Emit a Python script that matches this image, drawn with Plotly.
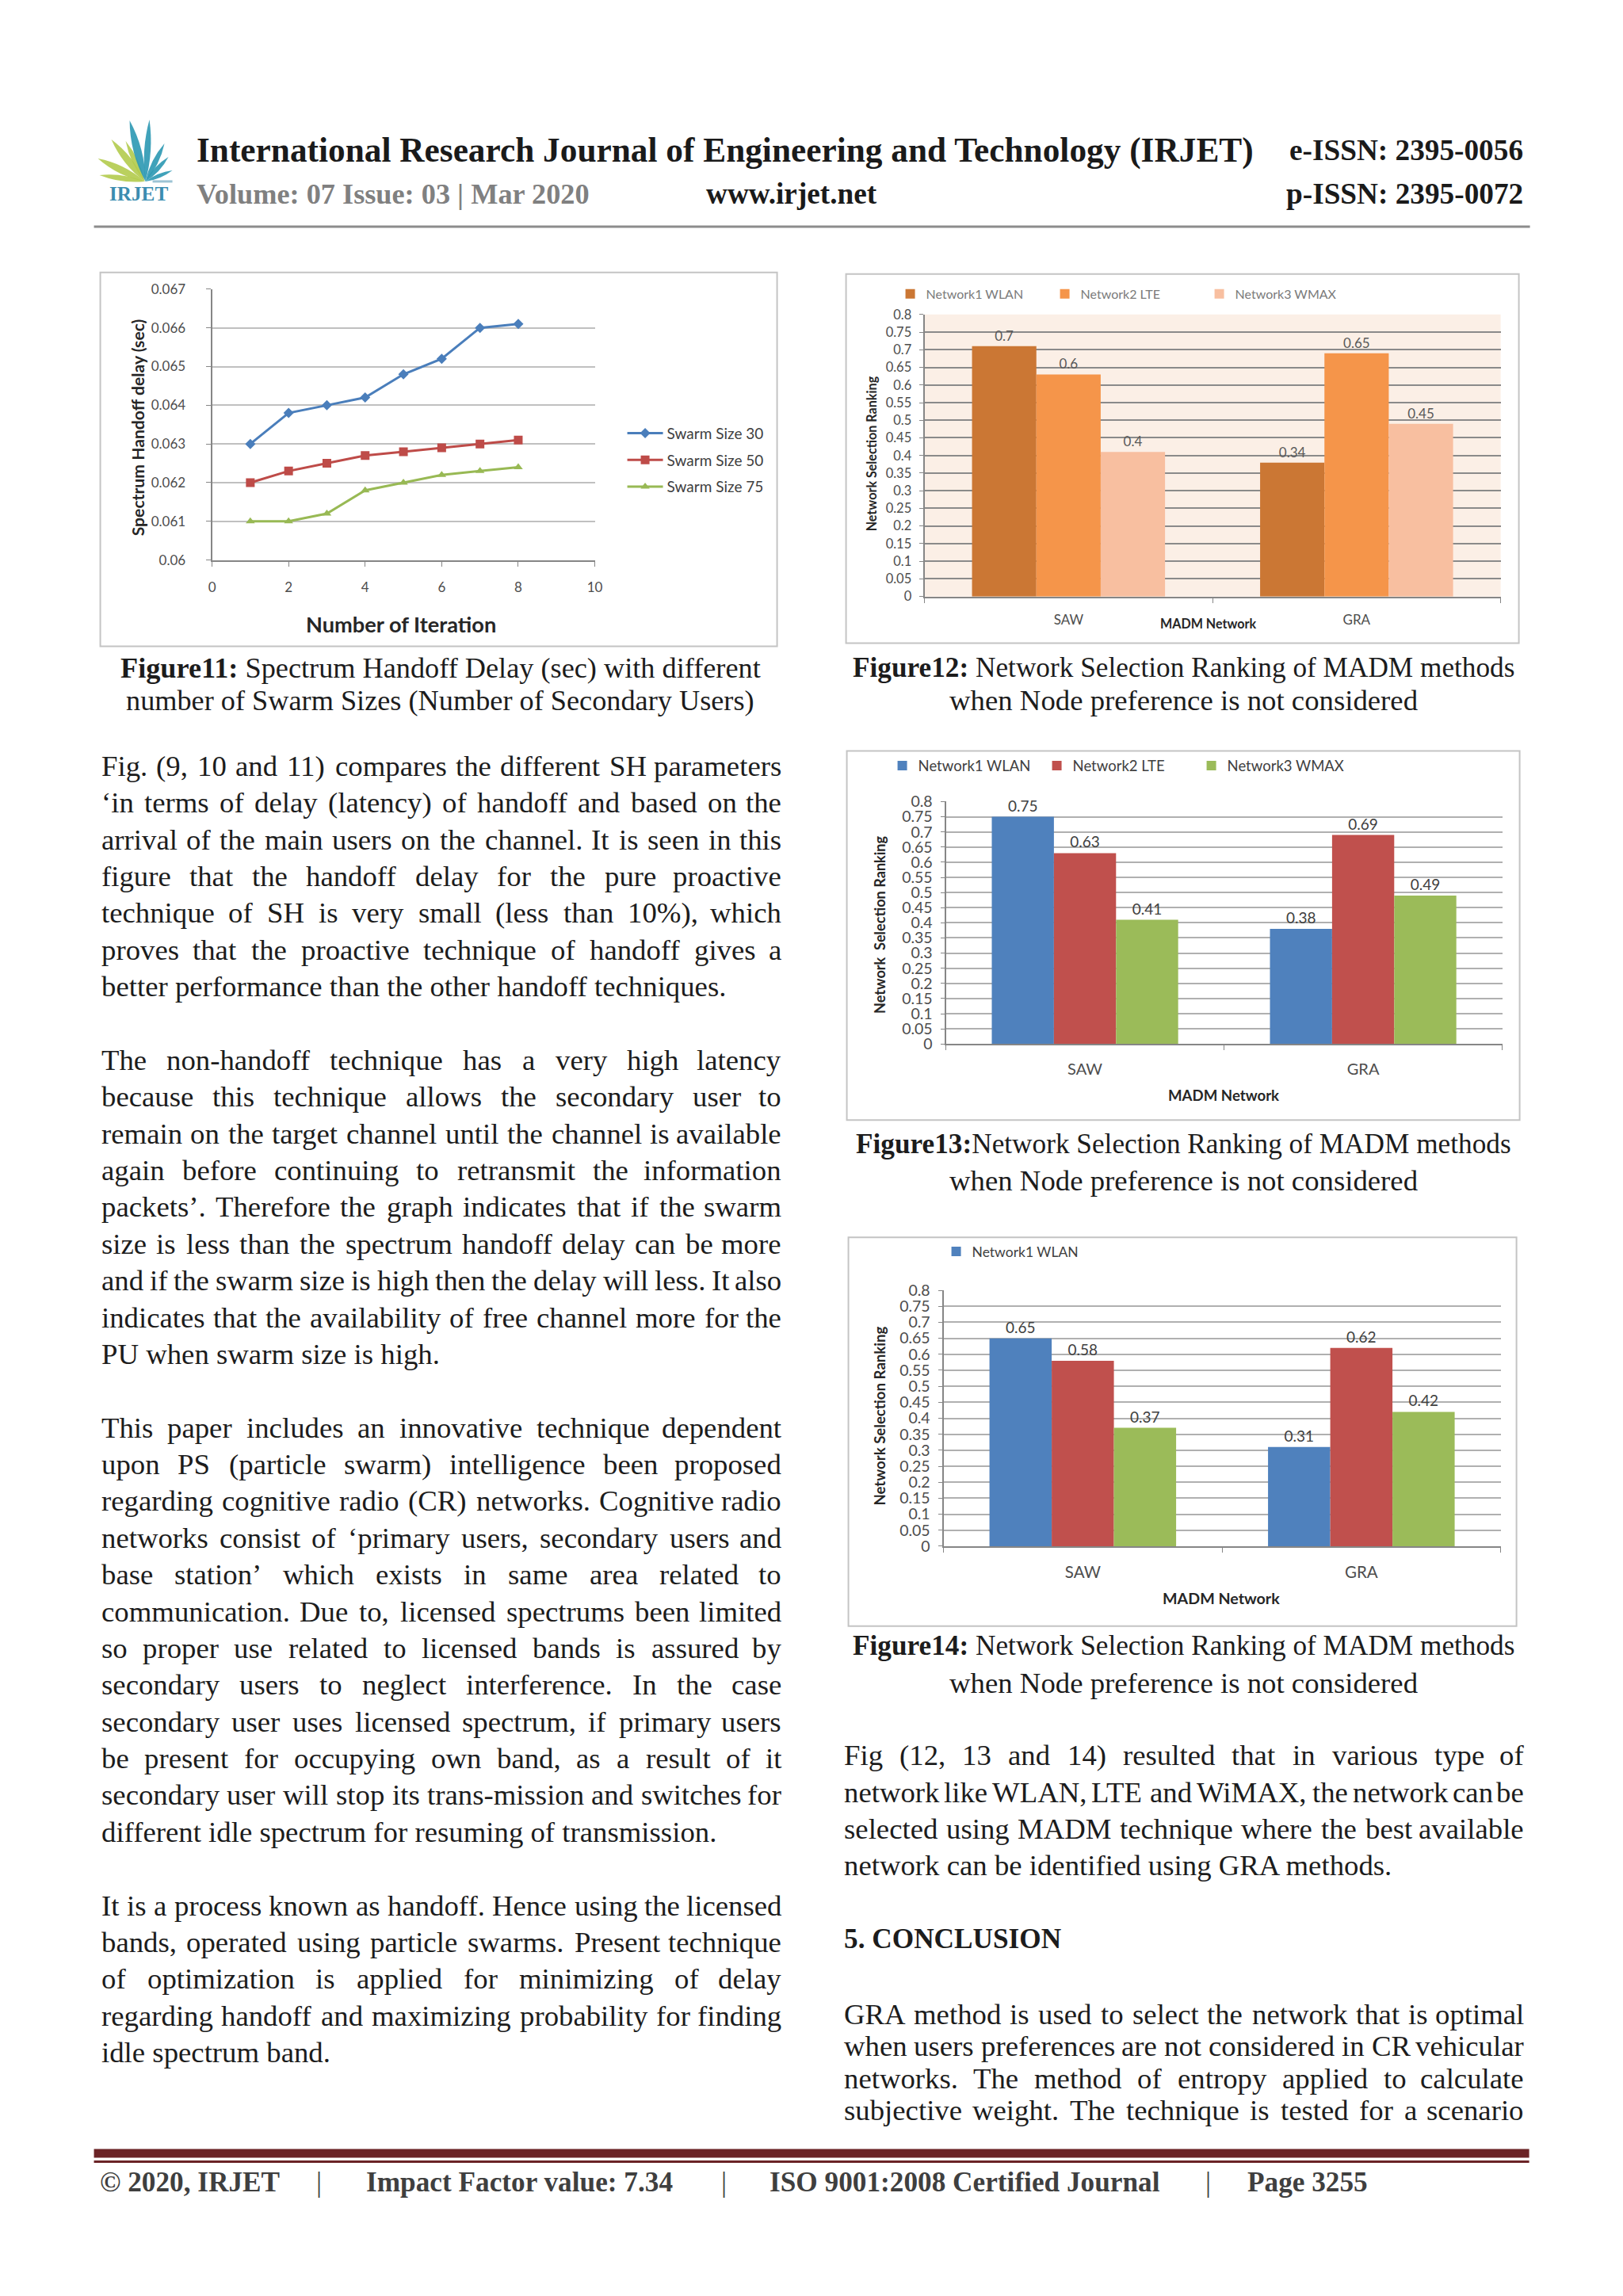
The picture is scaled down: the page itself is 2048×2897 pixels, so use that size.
import plotly.graph_objects as go

W, H = 2048, 2897
OFF = 8                      # default body margin of the page
FW, FH = W - 2 * OFF, H - 2 * OFF
# empirical correction of the photographed page (slight shrink + shift)
SC = 0.9926
AX0, AY0 = 4.5, 12.0
K = 1 / SC


def px(x):
    return ((x - AX0) / SC - OFF) / FW


def py(y):
    return 1 - ((y - AY0) / SC - OFF) / FH


# ---------------- data ----------------
iterations = [1, 2, 3, 4, 5, 6, 7, 8]
swarm_30 = [0.0630, 0.0638, 0.0640, 0.0642, 0.0648, 0.0652, 0.0660, 0.0661]
swarm_50 = [0.0620, 0.0623, 0.0625, 0.0627, 0.0628, 0.0629, 0.0630, 0.0631]
swarm_75 = [0.0610, 0.0610, 0.0612, 0.0618, 0.0620, 0.0622, 0.0623, 0.0624]
fig11_xticks = [0, 2, 4, 6, 8, 10]
fig11_yticks = [0.060, 0.061, 0.062, 0.063, 0.064, 0.065, 0.066, 0.067]
fig11_yticktext = ["0.06", "0.061", "0.062", "0.063", "0.064", "0.065", "0.066", "0.067"]

methods = ["SAW", "GRA"]
networks = ["Network1 WLAN", "Network2 LTE", "Network3 WMAX"]

fig12_wlan = [0.71, 0.38]
fig12_lte = [0.63, 0.69]
fig12_wmax = [0.41, 0.49]
fig12_wlan_text = ["0.7", "0.34"]
fig12_lte_text = ["0.6", "0.65"]
fig12_wmax_text = ["0.4", "0.45"]

fig13_wlan = [0.75, 0.38]
fig13_lte = [0.63, 0.69]
fig13_wmax = [0.41, 0.49]

fig14_wlan = [0.65, 0.31]
fig14_lte = [0.58, 0.62]
fig14_wmax = [0.37, 0.42]

rank_ticks = [0, 0.05, 0.1, 0.15, 0.2, 0.25, 0.3, 0.35, 0.4, 0.45, 0.5, 0.55, 0.6, 0.65, 0.7, 0.75, 0.8]
rank_ticktext = ["0", "0.05", "0.1", "0.15", "0.2", "0.25", "0.3", "0.35", "0.4", "0.45",
                 "0.5", "0.55", "0.6", "0.65", "0.7", "0.75", "0.8"]

# ---------------- text ----------------
left_paragraphs = [
    ["Fig. (9, 10 and 11) compares the different SH parameters",
     "\u2018in terms of delay (latency) of handoff and based on the",
     "arrival of the main users on the channel. It is seen in this",
     "figure that the handoff delay for the pure proactive",
     "technique of SH is very small (less than 10%), which",
     "proves that the proactive technique of handoff gives a",
     "better performance than the other handoff techniques."],
    ["The non-handoff technique has a very high latency",
     "because this technique allows the secondary user to",
     "remain on the target channel until the channel is available",
     "again before continuing to retransmit the information",
     "packets\u2019. Therefore the graph indicates that if the swarm",
     "size is less than the spectrum handoff delay can be more",
     "and if the swarm size is high then the delay will less. It also",
     "indicates that the availability of free channel more for the",
     "PU when swarm size is high."],
    ["This paper includes an innovative technique dependent",
     "upon PS (particle swarm) intelligence been proposed",
     "regarding cognitive radio (CR) networks. Cognitive radio",
     "networks consist of \u2018primary users, secondary users and",
     "base station\u2019 which exists in same area related to",
     "communication. Due to, licensed spectrums been limited",
     "so proper use related to licensed bands is assured by",
     "secondary users to neglect interference. In the case",
     "secondary user uses licensed spectrum, if primary users",
     "be present for occupying own band, as a result of it",
     "secondary user will stop its trans-mission and switches for",
     "different idle spectrum for resuming of transmission."],
    ["It is a process known as handoff. Hence using the licensed",
     "bands, operated using particle swarms. Present technique",
     "of optimization is applied for minimizing of delay",
     "regarding handoff and maximizing probability for finding",
     "idle spectrum band."],
]
right_paragraph = [
    "Fig (12, 13 and 14) resulted that in various type of",
    "network like WLAN, LTE and WiMAX, the network can be",
    "selected using MADM technique where the best available",
    "network can be identified using GRA methods.",
]
conclusion_lines = [
    "GRA method is used to select the network that is optimal",
    "when users preferences are not considered in CR vehicular",
    "networks. The method of entropy applied to calculate",
    "subjective weight. The technique is tested for a scenario",
]

# Times / Liberation Serif advance widths (1/1000 em)
REG = {' ': 250, '!': 333, '%': 833, '&': 778, "'": 180, '(': 333, ')': 333, ',': 250,
       '-': 333, '.': 250, '/': 278, ':': 278, ';': 278, '?': 444,
       'A': 722, 'B': 667, 'C': 667, 'D': 722, 'E': 611, 'F': 556, 'G': 722, 'H': 722,
       'I': 333, 'J': 389, 'K': 722, 'L': 611, 'M': 889, 'N': 722, 'O': 722, 'P': 556,
       'Q': 722, 'R': 667, 'S': 556, 'T': 611, 'U': 722, 'V': 722, 'W': 944, 'X': 722,
       'Y': 722, 'Z': 611,
       'a': 444, 'b': 500, 'c': 444, 'd': 500, 'e': 444, 'f': 333, 'g': 500, 'h': 500,
       'i': 278, 'j': 278, 'k': 500, 'l': 278, 'm': 778, 'n': 500, 'o': 500, 'p': 500,
       'q': 500, 'r': 333, 's': 389, 't': 278, 'u': 500, 'v': 500, 'w': 722, 'x': 500,
       'y': 500, 'z': 444, '\u2018': 333, '\u2019': 333}


def text_width(s, size):
    return sum(REG.get(c, 500) for c in s) * size / 1000.0


SERIF = "Liberation Serif"
SANS = "Lato"
BODY = 36.5
TXT = "#1c1c1c"

annotations = []
shapes = []


def ann(text, x, y, size, color=TXT, family=SERIF, xanchor="left", yanchor="middle", angle=0):
    annotations.append(dict(text=text, x=px(x), y=py(y), xref="paper", yref="paper",
                            xanchor=xanchor, yanchor=yanchor, showarrow=False,
                            textangle=angle, borderpad=0,
                            font=dict(family=family, size=round(size * K, 2), color=color)))


def text_line(line, x0, x1, y, justify, size=BODY):
    if not justify:
        ann(line, x0, y, size)
        return
    words = line.split(" ")
    widths = [text_width(w, size) for w in words]
    gap = (x1 - x0 - sum(widths)) / (len(words) - 1)
    x = x0
    for i, w in enumerate(words):
        if i == len(words) - 1:
            ann(w, x1, y, size, xanchor="right")
        else:
            ann(w, x, y, size)
        x += widths[i] + gap


# left column
LX0, LX1 = 126, 986
idx = 0
for para in left_paragraphs:
    for j, line in enumerate(para):
        text_line(line, LX0, LX1, 967 + 46.4 * idx, j < len(para) - 1)
        idx += 1
    idx += 1

# right column
RX0, RX1 = 1063, 1923
for j, line in enumerate(right_paragraph):
    text_line(line, RX0, RX1, 2216 + 46.4 * j, j < len(right_paragraph) - 1)
ann("<b>5. CONCLUSION</b>", RX0, 2448, 35)
for j, line in enumerate(conclusion_lines):
    text_line(line, RX0, RX1, 2543 + 40.3 * j, True)

# captions
ann("<b>Figure11:</b> Spectrum Handoff Delay (sec) with different", 555, 843, 36, xanchor="center")
ann("number of Swarm Sizes (Number of Secondary Users)", 555, 884, 36, xanchor="center")
ann("<b>Figure12:</b> Network Selection Ranking of MADM methods", 1493, 843, 35, xanchor="center")
ann("when Node preference is not considered", 1493, 884, BODY, xanchor="center")
ann("<b>Figure13:</b>Network Selection Ranking of MADM methods", 1493, 1444, 35, xanchor="center")
ann("when Node preference is not considered", 1493, 1490, BODY, xanchor="center")
ann("<b>Figure14:</b> Network Selection Ranking of MADM methods", 1493, 2078, 35, xanchor="center")
ann("when Node preference is not considered", 1493, 2125, BODY, xanchor="center")

# header
ann("<b>International Research Journal of Engineering and Technology (IRJET)</b>", 246, 190, 43, color="#1a1a1a")
ann("<b>e-ISSN: 2395-0056</b>", 1922, 190, 37, color="#1a1a1a", xanchor="right")
ann("<b>Volume: 07 Issue: 03 | Mar 2020</b>", 246, 245, 36, color="#808080")
ann("<b>www.irjet.net</b>", 889, 245, 37, color="#1a1a1a")
ann("<b>p-ISSN: 2395-0072</b>", 1922, 245, 37, color="#1a1a1a", xanchor="right")
shapes.append(dict(type="line", xref="paper", yref="paper", x0=px(118), x1=px(1930), y0=py(286), y1=py(286),
                   line=dict(color="#8c8c8c", width=3)))


# logo
def leaf(bx, by, tx, ty, w, color):
    mx, my = (bx + tx) / 2, (by + ty) / 2
    dx, dy = tx - bx, ty - by
    L = (dx * dx + dy * dy) ** 0.5
    nx, ny = -dy / L, dx / L
    c1 = (mx + nx * w, my + ny * w)
    c2 = (mx - nx * w, my - ny * w)
    path = "M {:.5f},{:.5f} Q {:.5f},{:.5f} {:.5f},{:.5f} Q {:.5f},{:.5f} {:.5f},{:.5f} Z".format(
        px(bx), py(by), px(c1[0]), py(c1[1]), px(tx), py(ty), px(c2[0]), py(c2[1]), px(bx), py(by))
    shapes.append(dict(type="path", xref="paper", yref="paper", path=path,
                       fillcolor=color, line=dict(width=0), opacity=0.9))


for tip, w in [((123, 200), 9), ((125, 221), 7), ((140, 176), 9), ((158, 178), 7)]:
    leaf(182, 229, tip[0], tip[1], w, "#b3cb4c")
for tip, w in [((163, 152), 10), ((188, 151), 8), ((207, 181), 7), ((212, 198), 6), ((217, 215), 5)]:
    leaf(183, 229, tip[0], tip[1], w, "#2b98b3")
shapes.append(dict(type="line", xref="paper", yref="paper", x0=px(192), x1=px(217), y0=py(229), y1=py(229),
                   line=dict(color="#9cc3d4", width=3)))
ann("<b>IRJET</b>", 174, 245, 25, color="#3b8db0", xanchor="center")

# footer
shapes.append(dict(type="rect", xref="paper", yref="paper", x0=px(118), x1=px(1929), y0=py(2724), y1=py(2713),
                   fillcolor="#6b2326", line=dict(width=0)))
shapes.append(dict(type="line", xref="paper", yref="paper", x0=px(118), x1=px(1929), y0=py(2729), y1=py(2729),
                   line=dict(color="#6b2326", width=3)))
FOOT = "#3f3f3f"
ann("<b>\u00a9 2020, IRJET</b>", 124, 2755, 35, color=FOOT)
ann("|", 402, 2755, 35, color=FOOT, xanchor="center")
ann("<b>Impact Factor value: 7.34</b>", 460, 2755, 35, color=FOOT)
ann("|", 913, 2755, 35, color=FOOT, xanchor="center")
ann("<b>ISO 9001:2008 Certified Journal</b>", 969, 2755, 35, color=FOOT)
ann("|", 1524, 2755, 35, color=FOOT, xanchor="center")
ann("<b>Page 3255</b>", 1572, 2755, 35, color=FOOT)

# chart frames
for (x0, y0, x1, y1) in [(126, 344, 980, 816), (1067, 346, 1916, 812), (1068, 948, 1917, 1414), (1070, 1562, 1913, 2053)]:
    shapes.append(dict(type="rect", xref="paper", yref="paper", x0=px(x0), x1=px(x1), y0=py(y1), y1=py(y0),
                       line=dict(color="#c4c4c4", width=2), fillcolor="rgba(0,0,0,0)"))

# peach plot area for Figure12
shapes.append(dict(type="rect", xref="x2 domain", yref="y2 domain", x0=0, x1=1, y0=0, y1=1,
                   fillcolor="#fbefe6", line=dict(width=0), layer="below"))

# chart axis titles
TITLE_C = "#262626"
ann("<b>Number of Iteration</b>", 505, 788, 27, color=TITLE_C, family=SANS, xanchor="center")
ann("<b>Spectrum Handoff delay (sec)</b>", 173, 540, 21, color=TITLE_C, family=SANS, xanchor="center", angle=-90)
ann("<b>Network Selection Ranking</b>", 1099, 573, 16, color=TITLE_C, family=SANS, xanchor="center", angle=-90)
ann("<b>MADM Network</b>", 1524, 787, 16, color=TITLE_C, family=SANS, xanchor="center")
ann("<b>Network  Selection Ranking</b>", 1110, 1167, 18, color=TITLE_C, family=SANS, xanchor="center", angle=-90)
ann("<b>MADM Network</b>", 1543, 1383, 18.5, color=TITLE_C, family=SANS, xanchor="center")
ann("<b>Network Selection Ranking</b>", 1109, 1788, 18.5, color=TITLE_C, family=SANS, xanchor="center", angle=-90)
ann("<b>MADM Network</b>", 1540, 2018, 19.5, color=TITLE_C, family=SANS, xanchor="center")

# ---------------- traces ----------------
fig = go.Figure()

line_series = [
    ("Swarm Size 30", swarm_30, "#4a7ebb", "diamond", 10),
    ("Swarm Size 50", swarm_50, "#be4b48", "square", 11),
    ("Swarm Size 75", swarm_75, "#98b954", "triangle-up", 10),
]
for name, vals, col, sym, sz in line_series:
    fig.add_trace(go.Scatter(x=iterations, y=vals, name=name, mode="lines+markers",
                             line=dict(color=col, width=3),
                             marker=dict(symbol=sym, size=sz, color=col),
                             xaxis="x", yaxis="y", legend="legend", legendgroup=name))

orange_cols = ["#cb7734", "#f5954a", "#f8bfa0"]
excel_cols = ["#4f81bd", "#c0504d", "#9bbb59"]

fig12_series = [(fig12_wlan, fig12_wlan_text), (fig12_lte, fig12_lte_text), (fig12_wmax, fig12_wmax_text)]
for i, (vals, txt) in enumerate(fig12_series):
    fig.add_trace(go.Bar(x=methods, y=vals, name=networks[i], text=txt, textposition="outside",
                         textfont=dict(family=SANS, size=17, color="#595959"), cliponaxis=False,
                         marker=dict(color=orange_cols[i], line=dict(width=0)),
                         xaxis="x2", yaxis="y2", legend="legend2"))

for i, vals in enumerate([fig13_wlan, fig13_lte, fig13_wmax]):
    fig.add_trace(go.Bar(x=methods, y=vals, name=networks[i], text=[f"{v:g}" for v in vals],
                         textposition="outside", cliponaxis=False,
                         textfont=dict(family=SANS, size=19, color="#404040"),
                         marker=dict(color=excel_cols[i], line=dict(width=0)),
                         xaxis="x3", yaxis="y3", legend="legend3"))

for i, vals in enumerate([fig14_wlan, fig14_lte, fig14_wmax]):
    fig.add_trace(go.Bar(x=methods, y=vals, name=networks[i], text=[f"{v:g}" for v in vals],
                         textposition="outside", cliponaxis=False,
                         textfont=dict(family=SANS, size=19, color="#404040"),
                         marker=dict(color=excel_cols[i], line=dict(width=0)),
                         showlegend=(i == 0),
                         xaxis="x4", yaxis="y4", legend="legend4"))

AX = "#868686"
TICKC = "#4d4d4d"


def bar_xaxis(domain, anchor, size):
    return dict(domain=domain, anchor=anchor, type="category", showline=True, linecolor=AX, linewidth=2,
                ticks="outside", tickson="boundaries", ticklen=6, tickcolor=AX, showgrid=False,
                tickfont=dict(family=SANS, size=size, color=TICKC), ticklabelstandoff=13, fixedrange=True)


def bar_yaxis(domain, anchor, size, gridcolor):
    return dict(domain=domain, anchor=anchor, range=[0, 0.8], tickvals=rank_ticks, ticktext=rank_ticktext,
                showline=True, linecolor=AX, linewidth=2, ticks="outside", ticklen=5, tickcolor=AX,
                showgrid=True, gridcolor=gridcolor, gridwidth=2, zeroline=False,
                tickfont=dict(family=SANS, size=size, color=TICKC), ticklabelstandoff=6)


fig.update_layout(
    width=FW, height=FH, margin=dict(l=0, r=0, t=0, b=0),
    paper_bgcolor="white", plot_bgcolor="rgba(0,0,0,0)",
    font=dict(family=SANS, color=TICKC),
    barmode="group", bargap=0.33, bargroupgap=0,
    xaxis=dict(domain=[px(267), px(750)], anchor="y", range=[0, 10], tickvals=fig11_xticks,
               showline=True, linecolor=AX, linewidth=2, ticks="outside", ticklen=6, tickcolor=AX,
               showgrid=False, zeroline=False, tickfont=dict(family=SANS, size=17, color=TICKC),
               ticklabelstandoff=12),
    yaxis=dict(domain=[py(707), py(365)], anchor="x", range=[0.060, 0.067], tickvals=fig11_yticks,
               ticktext=fig11_yticktext, showline=True, linecolor=AX, linewidth=2, ticks="outside",
               ticklen=6, tickcolor=AX, showgrid=True, gridcolor="#c0c0c0", gridwidth=2, zeroline=False,
               tickfont=dict(family=SANS, size=17, color=TICKC), ticklabelstandoff=22),
    xaxis2=bar_xaxis([px(1166), px(1893)], "y2", 17),
    yaxis2=bar_yaxis([py(753), py(397)], "x2", 16.5, "#8a8a8a"),
    xaxis3=bar_xaxis([px(1193), px(1895)], "y3", 20),
    yaxis3=bar_yaxis([py(1318), py(1012)], "x3", 19.5, "#b0b0b0"),
    xaxis4=bar_xaxis([px(1190), px(1893)], "y4", 20.5),
    yaxis4=bar_yaxis([py(1952), py(1629)], "x4", 19.5, "#b0b0b0"),
    legend=dict(x=px(786), y=py(581), xanchor="left", yanchor="middle", orientation="v",
                font=dict(family=SANS, size=19, color="#404040"), bgcolor="rgba(0,0,0,0)",
                itemwidth=45, tracegroupgap=6),
    legend2=dict(x=px(1128), y=py(371), xanchor="left", yanchor="middle", orientation="h",
                 font=dict(family=SANS, size=16, color="#7a7a7a"), bgcolor="rgba(0,0,0,0)",
                 entrywidth=150),
    legend3=dict(x=px(1118), y=py(967), xanchor="left", yanchor="middle", orientation="h",
                 font=dict(family=SANS, size=18.5, color="#404040"), bgcolor="rgba(0,0,0,0)",
                 entrywidth=150),
    legend4=dict(x=px(1186), y=py(1580), xanchor="left", yanchor="middle", orientation="h",
                 font=dict(family=SANS, size=17.5, color="#404040"), bgcolor="rgba(0,0,0,0)"),
    annotations=annotations,
    shapes=shapes,
)

fig.write_html("out.html", config={"displayModeBar": False})
